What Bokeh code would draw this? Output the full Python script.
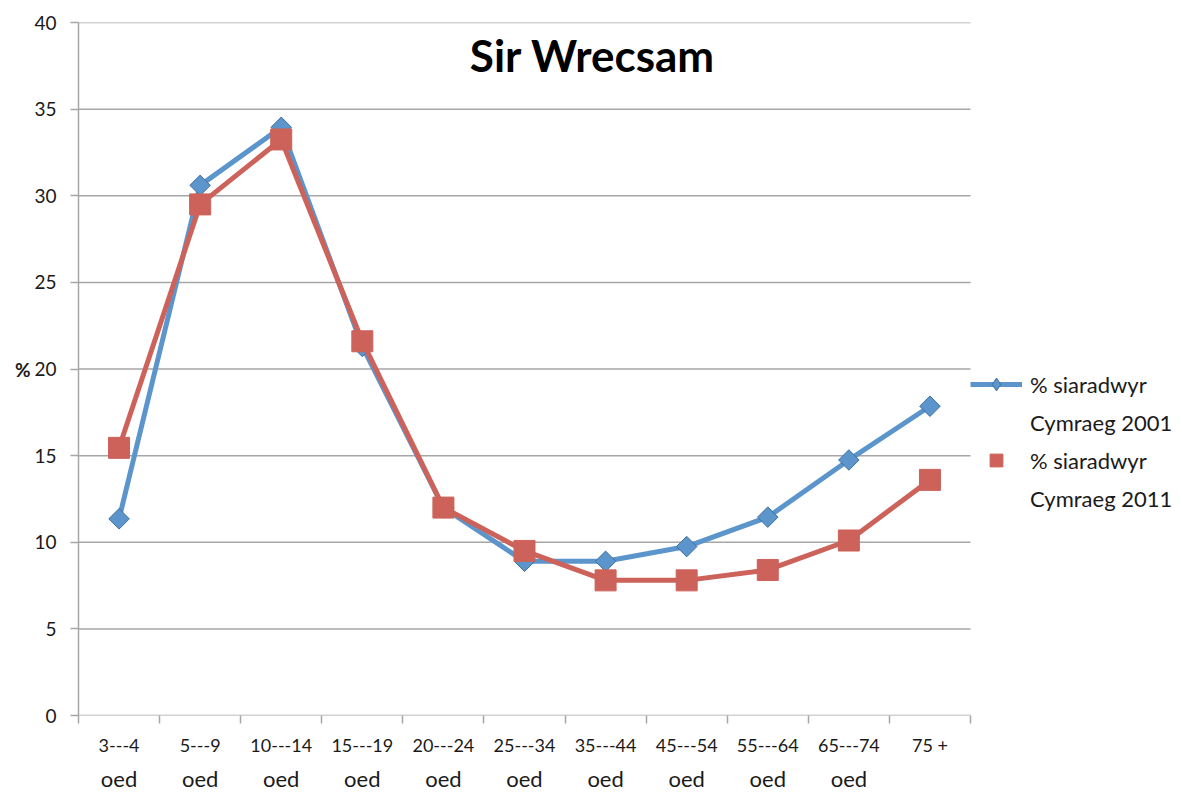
from bokeh.plotting import figure
from bokeh.models import (LinearAxis, FixedTicker, Legend, LegendItem, Label, Range1d)
from bokeh.embed import file_html
from bokeh.resources import INLINE
import numpy as np

title = "Sir Wrecsam"
categories_top = ["3---4", "5---9", "10---14", "15---19", "20---24", "25---34",
                  "35---44", "45---54", "55---64", "65---74", "75 +"]
categories_bottom = ["oed", "oed", "oed", "oed", "oed", "oed",
                     "oed", "oed", "oed", "oed", ""]
series_2001 = [11.35, 30.6, 33.95, 21.3, 12.0, 8.9, 8.9, 9.75, 11.45, 14.75, 17.85]
series_2011 = [15.45, 29.5, 33.25, 21.6, 12.0, 9.5, 7.8, 7.8, 8.4, 10.1, 13.6]
label_2001 = ["% siaradwyr", "Cymraeg 2001"]
label_2011 = ["% siaradwyr", "Cymraeg 2011"]
y_ticks = [0, 5, 10, 15, 20, 25, 30, 35, 40]

FONT = "Lato"
BLUE = "#5B95CB"
BLUE_EDGE = "#3f6f9c"
RED = "#CD625A"
GRID = "#A6A6A6"
TXT = "#1a1a1a"

W, H = 1182, 794
LEFT, TOP, BOTTOM = 78, 22, 78
PLOT_W = 892  # width of the category area in px

n = len(categories_top)
xs = np.arange(n) + 0.5
x_max = n * (W - LEFT) / PLOT_W  # frame extends right to hold the legend

p = figure(width=W, height=H, x_range=Range1d(0, x_max), y_range=Range1d(0, 40),
           output_backend="svg", toolbar_location=None, x_axis_type=None,
           min_border_left=LEFT, min_border_right=0, min_border_top=TOP,
           min_border_bottom=BOTTOM)
p.outline_line_color = None
p.background_fill_color = "white"
p.xgrid.grid_line_color = None
p.ygrid.grid_line_color = None

# y axis
ya = p.yaxis[0]
ya.ticker = FixedTicker(ticks=y_ticks, minor_ticks=[])
ya.axis_line_color = GRID
ya.axis_line_width = 1.5
ya.major_tick_line_color = GRID
ya.major_tick_line_width = 1.5
ya.major_tick_in = 0
ya.major_tick_out = 8
ya.minor_tick_line_color = None
ya.major_label_text_font = FONT
ya.major_label_text_font_size = "19px"
ya.major_label_text_color = TXT
ya.major_label_standoff = 14
ya.axis_label = "%"
ya.axis_label_orientation = "horizontal"
ya.axis_label_text_font = FONT
ya.axis_label_text_font_style = "bold"
ya.axis_label_text_font_size = "19px"
ya.axis_label_text_color = TXT
ya.axis_label_standoff = 1

# horizontal grid lines spanning the category area only
p.segment(x0=[0] * len(y_ticks), x1=[n] * len(y_ticks), y0=y_ticks, y1=y_ticks,
          line_color=GRID, line_width=1.5)

# x axis: first line of labels, with boundary tick marks
xa = LinearAxis(ticker=FixedTicker(ticks=list(xs), minor_ticks=list(range(n + 1))))
xa.major_label_overrides = {float(x): c for x, c in zip(xs, categories_top)}
xa.axis_line_color = None
xa.major_tick_line_color = None
xa.major_tick_in = 0
xa.major_tick_out = 0
xa.minor_tick_line_color = GRID
xa.minor_tick_line_width = 1.5
xa.minor_tick_in = 0
xa.minor_tick_out = 8
xa.major_label_text_font = FONT
xa.major_label_text_font_size = "18px"
xa.major_label_text_color = TXT
xa.major_label_standoff = 10
p.add_layout(xa, "below")

xb = LinearAxis(ticker=FixedTicker(ticks=list(xs), minor_ticks=[]))
xb.major_label_overrides = {float(x): c for x, c in zip(xs, categories_bottom)}
xb.axis_line_color = None
xb.major_tick_line_color = None
xb.minor_tick_line_color = None
xb.major_tick_in = 0
xb.major_tick_out = 0
xb.major_label_text_font = FONT
xb.major_label_text_font_size = "22px"
xb.major_label_text_color = TXT
xb.major_label_standoff = 6
p.add_layout(xb, "below")

# series
l1 = p.line(xs, series_2001, line_color=BLUE, line_width=5)
# diamond glyph used for the legend swatch (hidden beneath the rotated squares)
d1 = p.scatter(xs, series_2001, marker="diamond", size=14, fill_color=BLUE,
               line_color=BLUE_EDGE, line_width=1)
m1 = p.scatter(xs, series_2001, marker="square", size=14.5, angle=np.pi / 4,
               fill_color=BLUE, line_color=BLUE_EDGE, line_width=1)
l2 = p.line(xs, series_2011, line_color=RED, line_width=5)
m2 = p.scatter(xs, series_2011, marker="square", size=21, fill_color=RED,
               line_color=RED, line_width=1)

leg_blank = p.line(x=[], y=[], line_alpha=0)

# title
p.add_layout(Label(x=6.34, y=38.1, text=title, text_font=FONT, text_font_style="bold",
                   text_font_size="44px", text_color="black", text_align="center",
                   text_baseline="middle"))

legend = Legend(items=[LegendItem(label=label_2001[0], renderers=[l1, d1]),
                       LegendItem(label=label_2001[1], renderers=[leg_blank]),
                       LegendItem(label=label_2011[0], renderers=[m2]),
                       LegendItem(label=label_2011[1], renderers=[leg_blank])],
                location=(PLOT_W, 201), orientation="vertical")
legend.label_text_font = FONT
legend.label_text_font_size = "22px"
legend.label_text_color = TXT
legend.glyph_width = 52
legend.glyph_height = 32
legend.spacing = 6
legend.padding = 0
legend.margin = 0
legend.border_line_color = None
legend.background_fill_alpha = 0
legend.label_standoff = 8
p.add_layout(legend, "center")

open("out.html", "w").write(file_html(p, INLINE))
